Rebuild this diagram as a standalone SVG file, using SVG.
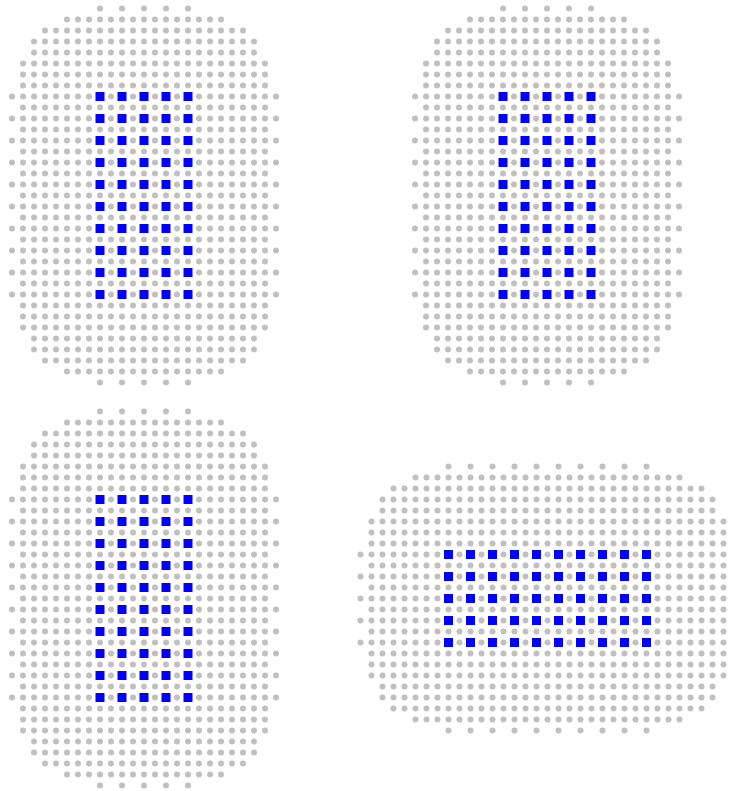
<svg xmlns="http://www.w3.org/2000/svg" width="730" height="791" viewBox="0 0 730 791">
<style>
circle{fill:#c0c0c0}
.sq{fill:#0000ff}
</style>
<rect width="730" height="791" fill="#ffffff"/>
<defs>
<g id="aS"><circle cx="88" r="3"/><circle cx="110" r="3"/><circle cx="132" r="3"/><circle cx="154" r="3"/><circle cx="176" r="3"/></g>
<g id="a15"><circle cx="55" r="3"/><circle cx="66" r="3"/><circle cx="77" r="3"/><circle cx="88" r="3"/><circle cx="99" r="3"/><circle cx="110" r="3"/><circle cx="121" r="3"/><circle cx="132" r="3"/><circle cx="143" r="3"/><circle cx="154" r="3"/><circle cx="165" r="3"/><circle cx="176" r="3"/><circle cx="187" r="3"/><circle cx="198" r="3"/><circle cx="209" r="3"/></g>
<g id="a19"><use href="#a15"/><circle cx="33" r="3"/><circle cx="44" r="3"/><circle cx="220" r="3"/><circle cx="231" r="3"/></g>
<g id="a21"><use href="#a19"/><circle cx="22" r="3"/><circle cx="242" r="3"/></g>
<g id="a23"><use href="#a21"/><circle cx="11" r="3"/><circle cx="253" r="3"/></g>
<g id="a25"><use href="#a23"/><circle cx="0" r="3"/><circle cx="264" r="3"/></g>
<g id="bS"><use href="#aS"/><circle cx="198" r="3"/><circle cx="220" r="3"/><circle cx="242" r="3"/><circle cx="264" r="3"/><circle cx="286" r="3"/></g>
<g id="b25"><use href="#a15"/><circle cx="220" r="3"/><circle cx="231" r="3"/><circle cx="242" r="3"/><circle cx="253" r="3"/><circle cx="264" r="3"/><circle cx="275" r="3"/><circle cx="286" r="3"/><circle cx="297" r="3"/><circle cx="308" r="3"/><circle cx="319" r="3"/></g>
<g id="b29"><use href="#b25"/><circle cx="33" r="3"/><circle cx="44" r="3"/><circle cx="330" r="3"/><circle cx="341" r="3"/></g>
<g id="b31"><use href="#b29"/><circle cx="22" r="3"/><circle cx="352" r="3"/></g>
<g id="b33"><use href="#b31"/><circle cx="11" r="3"/><circle cx="363" r="3"/></g>
<g id="b35"><use href="#b33"/><circle cx="0" r="3"/></g>
<g id="qA" class="sq"><rect x="83.5" y="-4.5" width="9" height="9"/><rect x="105.5" y="-4.5" width="9" height="9"/><rect x="127.5" y="-4.5" width="9" height="9"/><rect x="149.5" y="-4.5" width="9" height="9"/><rect x="171.5" y="-4.5" width="9" height="9"/></g>
<g id="qB"><use href="#qA"/><use href="#qA" x="110"/></g>
<g id="vpanel">
<use href="#aS" y="0"/><use href="#a15" y="11"/><use href="#a19" y="22"/><use href="#a21" y="33"/><use href="#a21" y="44"/>
<use href="#a23" y="55"/><use href="#a23" y="66"/><use href="#a23" y="77"/>
<use href="#a25" y="88"/><use href="#a23" y="99"/><use href="#a25" y="110"/><use href="#a23" y="121"/><use href="#a25" y="132"/><use href="#a23" y="143"/><use href="#a25" y="154"/><use href="#a23" y="165"/><use href="#a25" y="176"/><use href="#a23" y="187"/><use href="#a25" y="198"/><use href="#a23" y="209"/><use href="#a25" y="220"/><use href="#a23" y="231"/><use href="#a25" y="242"/><use href="#a23" y="253"/><use href="#a25" y="264"/><use href="#a23" y="275"/><use href="#a25" y="286"/>
<use href="#a23" y="297"/><use href="#a23" y="308"/><use href="#a23" y="319"/><use href="#a21" y="330"/><use href="#a21" y="341"/><use href="#a19" y="352"/><use href="#a15" y="363"/><use href="#aS" y="374"/>
<use href="#qA" y="88"/><use href="#qA" y="110"/><use href="#qA" y="132"/><use href="#qA" y="154"/><use href="#qA" y="176"/><use href="#qA" y="198"/><use href="#qA" y="220"/><use href="#qA" y="242"/><use href="#qA" y="264"/><use href="#qA" y="286"/>
</g>
</defs>
<g id="panel-top-left" transform="translate(12,8.5)"><use href="#vpanel"/></g>
<g id="panel-top-right" transform="translate(415,8.5)"><use href="#vpanel"/></g>
<g id="panel-bottom-left" transform="translate(12,411.5)"><use href="#vpanel"/></g>
<g id="panel-bottom-right" transform="translate(360.5,466.5)">
<use href="#bS" y="0"/><use href="#b25" y="11"/><use href="#b29" y="22"/><use href="#b31" y="33"/><use href="#b31" y="44"/>
<use href="#b33" y="55"/><use href="#b33" y="66"/><use href="#b33" y="77"/>
<use href="#b35" y="88"/><use href="#b33" y="99"/><use href="#b35" y="110"/><use href="#b33" y="121"/><use href="#b35" y="132"/><use href="#b33" y="143"/><use href="#b35" y="154"/><use href="#b33" y="165"/><use href="#b35" y="176"/>
<use href="#b33" y="187"/><use href="#b33" y="198"/><use href="#b33" y="209"/><use href="#b31" y="220"/><use href="#b31" y="231"/><use href="#b29" y="242"/><use href="#b25" y="253"/><use href="#bS" y="264"/>
<use href="#qB" y="88"/><use href="#qB" y="110"/><use href="#qB" y="132"/><use href="#qB" y="154"/><use href="#qB" y="176"/>
</g>
</svg>
